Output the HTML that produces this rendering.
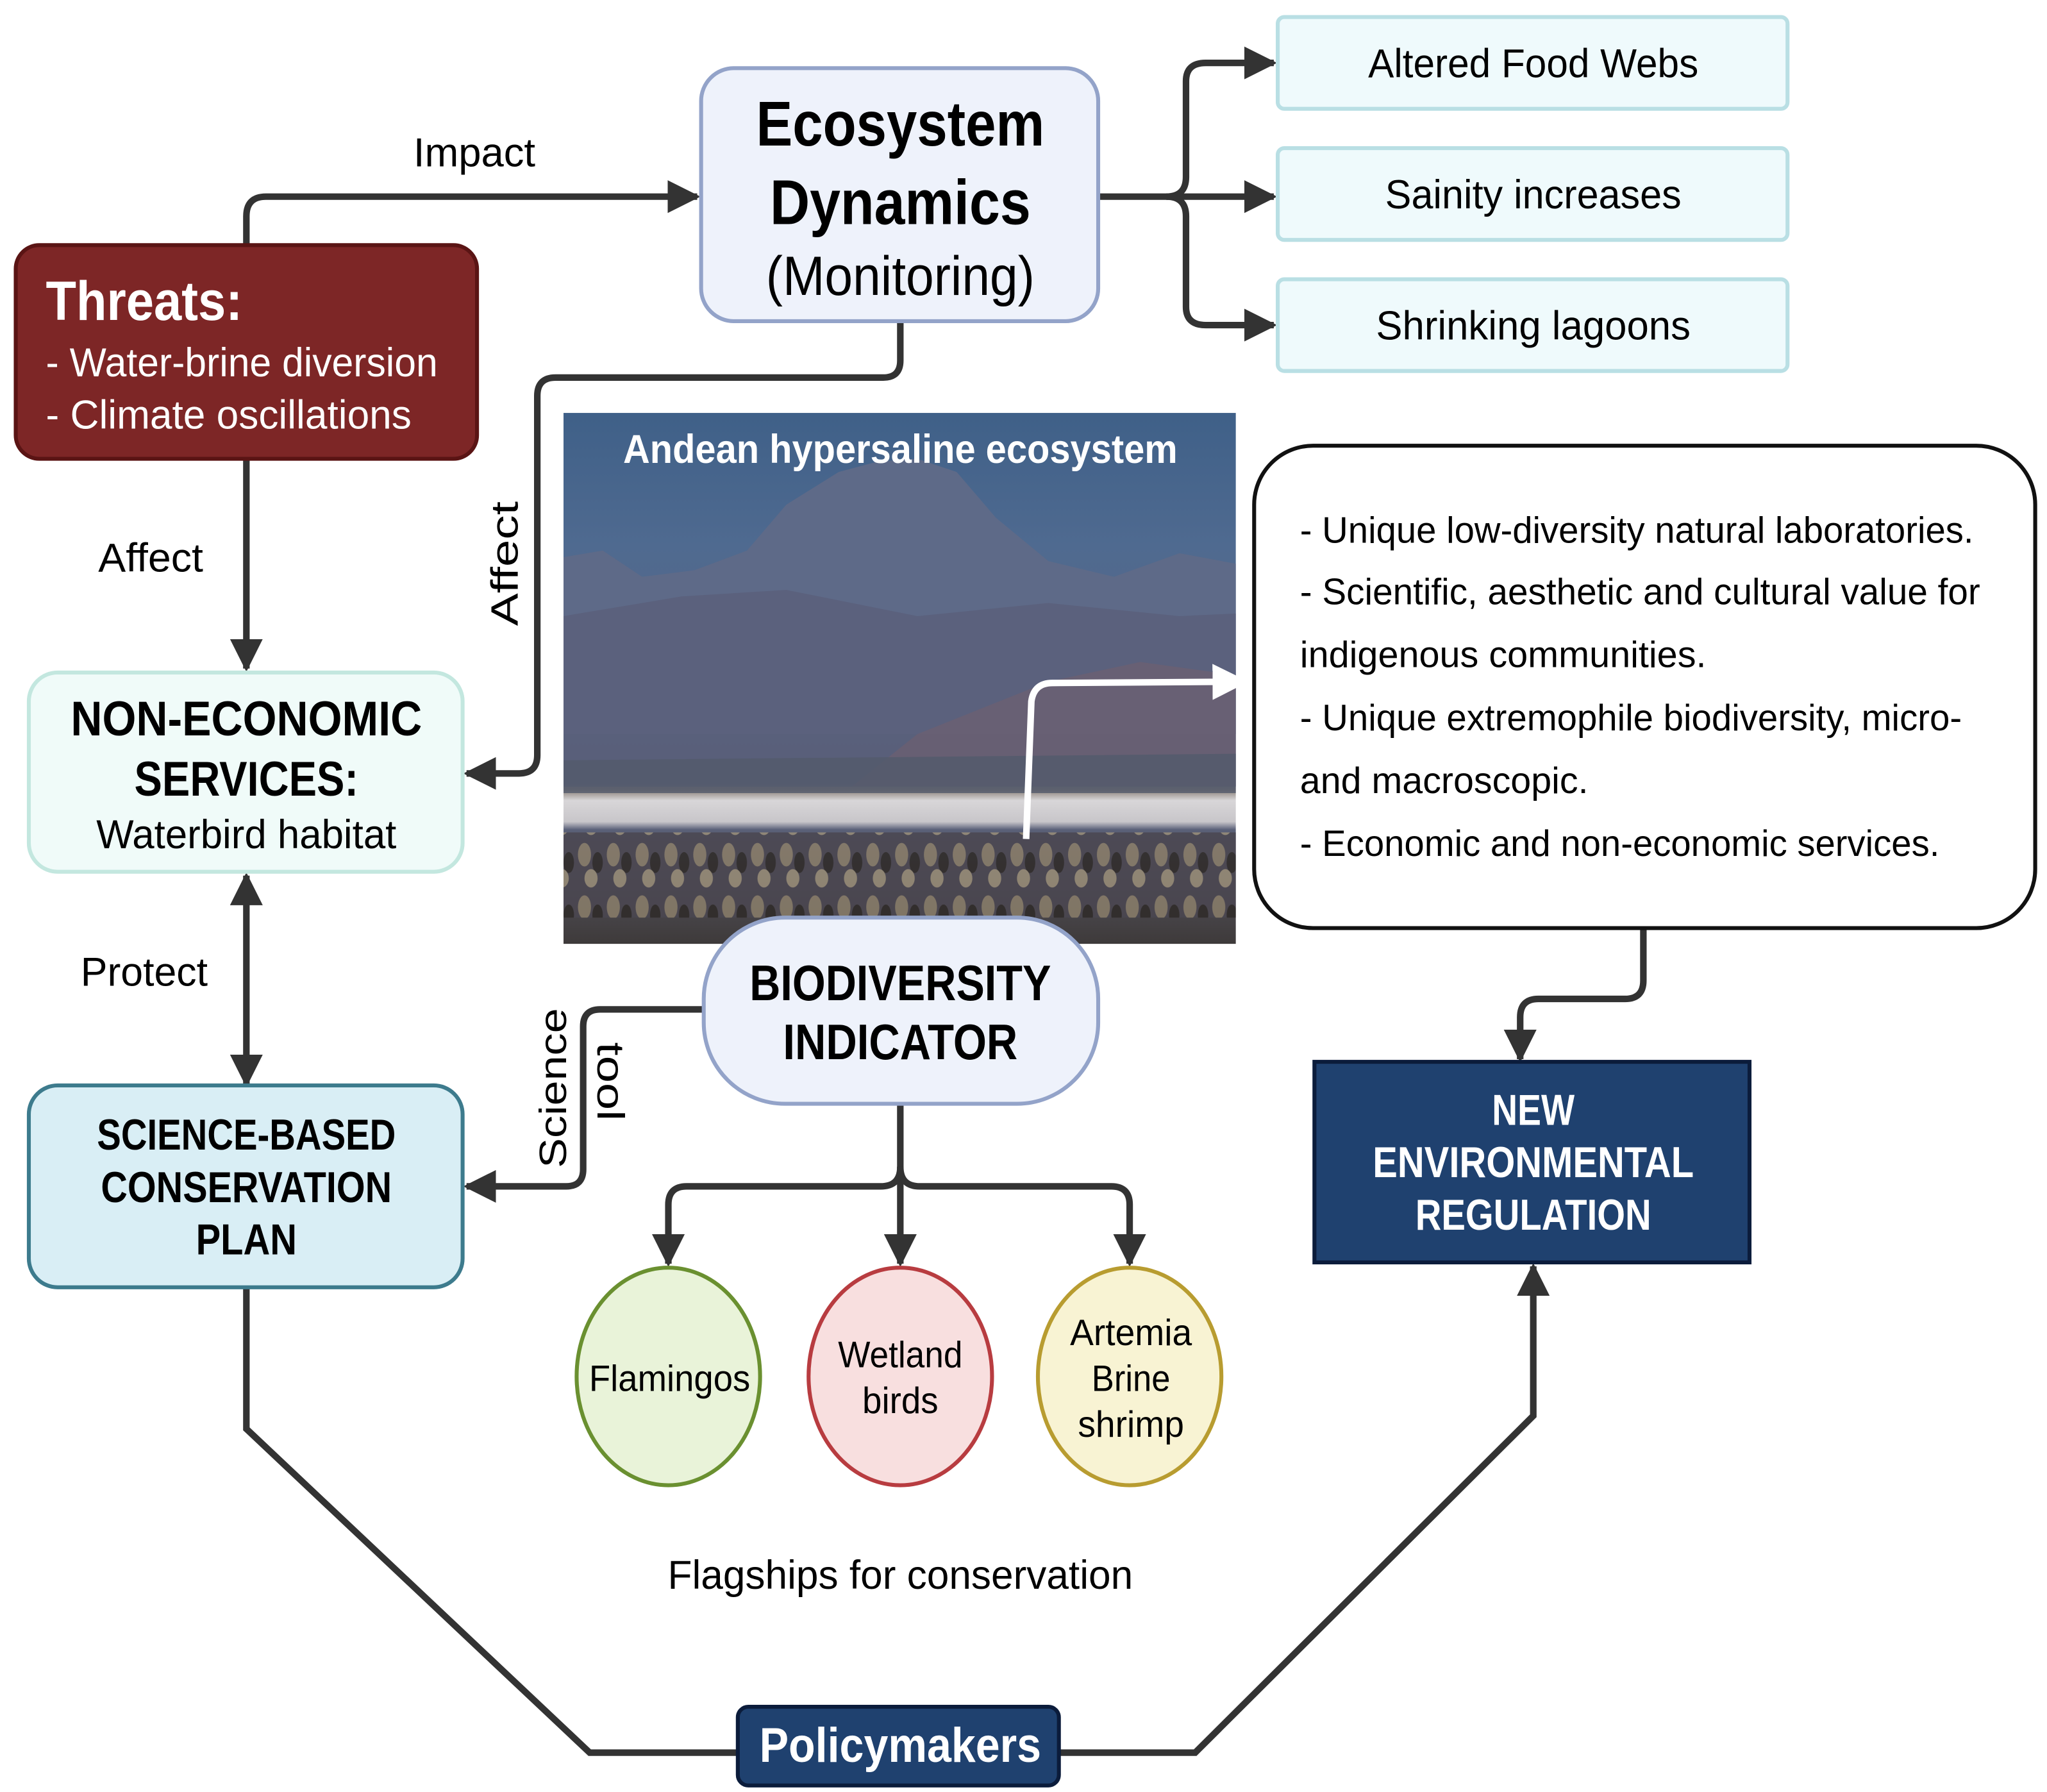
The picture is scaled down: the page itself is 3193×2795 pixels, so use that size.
<!DOCTYPE html>
<html><head><meta charset="utf-8"><style>
html,body{margin:0;padding:0;background:#fff;}
svg{display:block;}
text{font-family:"Liberation Sans",sans-serif;}
</style></head><body>
<svg width="3193" height="2795" viewBox="0 0 1562 1367" preserveAspectRatio="none" xmlns="http://www.w3.org/2000/svg">
<defs>
<marker id="ah" viewBox="0 0 10 10" refX="9" refY="5" markerWidth="5" markerHeight="5" orient="auto-start-reverse" markerUnits="strokeWidth"><path d="M0,0 L10,5 L0,10 z" fill="#333"/></marker>
<marker id="aw" viewBox="0 0 10 10" refX="9" refY="5" markerWidth="5.5" markerHeight="5.5" orient="auto" markerUnits="strokeWidth"><path d="M0,0 L10,5 L0,10 z" fill="#fff"/></marker>
<linearGradient id="sky" x1="0" y1="0" x2="0" y2="1">
<stop offset="0" stop-color="#3f6088"/><stop offset="0.25" stop-color="#4f6a90"/><stop offset="0.55" stop-color="#5a6582"/><stop offset="0.69" stop-color="#556076"/><stop offset="0.71" stop-color="#8a8078"/><stop offset="0.73" stop-color="#d8d6d8"/><stop offset="0.77" stop-color="#c8c6ca"/><stop offset="0.785" stop-color="#5a6078"/><stop offset="0.82" stop-color="#5a5a68"/><stop offset="1" stop-color="#3e3a3a"/>
</linearGradient>
<pattern id="birds" width="22" height="40" patternUnits="userSpaceOnUse">
<rect width="22" height="40" fill="#4a4650"/>
<ellipse cx="6" cy="12" rx="5" ry="9" fill="#8a7e6a"/><ellipse cx="16" cy="18" rx="4" ry="8" fill="#2e2a28"/><ellipse cx="11" cy="30" rx="5" ry="7" fill="#9a8e78"/>
</pattern>
</defs>

<!-- photo -->
<rect x="430" y="315" width="513" height="405" fill="url(#sky)"/>
<path d="M430,425 L460,420 L490,440 L530,435 L570,420 L600,385 L640,360 L670,352 L700,350 L730,360 L760,395 L800,428 L850,440 L900,422 L943,430 L943,560 L430,560 Z" fill="#5e6a88"/>
<path d="M430,470 L520,455 L600,450 L700,470 L800,460 L900,470 L943,468 L943,600 L430,600 Z" fill="#5a5f7a" opacity="0.8"/>
<path d="M700,560 L800,520 L870,505 L943,515 L943,600 L650,600 Z" fill="#6e6070" opacity="0.7"/>
<path d="M430,580 L943,575 L943,605 L430,605 Z" fill="#525a6c" opacity="0.8"/>
<rect x="430" y="635" width="513" height="65" fill="url(#birds)" opacity="0.85"/>
<text x="687" y="353" font-size="31" font-weight="bold" fill="#fff" text-anchor="middle" textLength="423" lengthAdjust="spacingAndGlyphs">Andean hypersaline ecosystem</text>
<path d="M783,640 L787,535 Q789,521 803,521 L950,520" fill="none" stroke="#fff" stroke-width="5" marker-end="url(#aw)"/>

<!-- connectors -->
<g fill="none" stroke="#333" stroke-width="5">
<path d="M188,187 L188,165 Q188,150 203,150 L532,150" marker-end="url(#ah)"/>
<path d="M838,150 L972,150" marker-end="url(#ah)"/>
<path d="M890,150 Q905,150 905,135 L905,62 Q905,48 920,48 L972,48" marker-end="url(#ah)"/>
<path d="M890,150 Q905,150 905,165 L905,234 Q905,248 920,248 L972,248" marker-end="url(#ah)"/>
<path d="M188,350 L188,510" marker-end="url(#ah)"/>
<path d="M687,245 L687,275 Q687,288 674,288 L424,288 Q410,288 410,302 L410,576 Q410,590 396,590 L356,590" marker-end="url(#ah)"/>
<path d="M188,668 L188,827" marker-start="url(#ah)" marker-end="url(#ah)"/>
<path d="M537,770 L458,770 Q445,770 445,783 L445,892 Q445,905 432,905 L356,905" marker-end="url(#ah)"/>
<path d="M687,842 L687,964" marker-end="url(#ah)"/>
<path d="M687,890 Q687,905 672,905 L524,905 Q510,905 510,919 L510,964" marker-end="url(#ah)"/>
<path d="M687,890 Q687,905 702,905 L848,905 Q862,905 862,919 L862,964" marker-end="url(#ah)"/>
<path d="M1254,708 L1254,748 Q1254,762 1240,762 L1174,762 Q1160,762 1160,776 L1160,808" marker-end="url(#ah)"/>
<path d="M188,982 L188,1090 L450,1337 L565,1337"/>
<path d="M808,1337 L912,1337 L1170,1080 L1170,966" marker-end="url(#ah)"/>
</g>

<!-- ecosystem box -->
<rect x="535" y="52" width="303" height="193" rx="25" fill="#eef2fb" stroke="#93a3c9" stroke-width="3"/>
<text x="687" y="111" font-size="48" font-weight="bold" text-anchor="middle" textLength="220" lengthAdjust="spacingAndGlyphs">Ecosystem</text>
<text x="687" y="171" font-size="48" font-weight="bold" text-anchor="middle" textLength="199" lengthAdjust="spacingAndGlyphs">Dynamics</text>
<text x="687" y="225" font-size="42" text-anchor="middle" textLength="205" lengthAdjust="spacingAndGlyphs">(Monitoring)</text>

<!-- right small boxes -->
<g fill="#effafc" stroke="#b9dfe4" stroke-width="3">
<rect x="975" y="13" width="389" height="70" rx="5"/>
<rect x="975" y="113" width="389" height="70" rx="5"/>
<rect x="975" y="213" width="389" height="70" rx="5"/>
</g>
<g font-size="31" text-anchor="middle">
<text x="1170" y="59" textLength="252" lengthAdjust="spacingAndGlyphs">Altered Food Webs</text>
<text x="1170" y="159" textLength="226" lengthAdjust="spacingAndGlyphs">Sainity increases</text>
<text x="1170" y="259" textLength="240" lengthAdjust="spacingAndGlyphs">Shrinking lagoons</text>
</g>

<!-- threats -->
<rect x="12" y="187" width="352" height="163" rx="18" fill="#7d2626" stroke="#5a1414" stroke-width="3"/>
<text x="35" y="244" font-size="42" font-weight="bold" fill="#fff" textLength="150" lengthAdjust="spacingAndGlyphs">Threats:</text>
<text x="35" y="287" font-size="31" fill="#fff" textLength="299" lengthAdjust="spacingAndGlyphs">- Water-brine diversion</text>
<text x="35" y="327" font-size="31" fill="#fff" textLength="279" lengthAdjust="spacingAndGlyphs">- Climate oscillations</text>

<!-- labels -->
<text x="362" y="127" font-size="31" text-anchor="middle" textLength="93" lengthAdjust="spacingAndGlyphs">Impact</text>
<text x="115" y="436" font-size="31" text-anchor="middle" textLength="80" lengthAdjust="spacingAndGlyphs">Affect</text>
<text transform="translate(395,430) rotate(-90)" font-size="29" text-anchor="middle" textLength="95" lengthAdjust="spacingAndGlyphs">Affect</text>
<text x="110" y="752" font-size="31" text-anchor="middle" textLength="97" lengthAdjust="spacingAndGlyphs">Protect</text>
<text transform="translate(432,830) rotate(-90)" font-size="29" text-anchor="middle" textLength="122" lengthAdjust="spacingAndGlyphs">Science</text>
<text transform="translate(456,825) rotate(90)" font-size="29" text-anchor="middle" textLength="60" lengthAdjust="spacingAndGlyphs">tool</text>

<!-- non-economic -->
<rect x="22" y="513" width="331" height="152" rx="22" fill="#f0fbf9" stroke="#c3e7df" stroke-width="3"/>
<text x="188" y="561" font-size="37" font-weight="bold" text-anchor="middle" textLength="268" lengthAdjust="spacingAndGlyphs">NON-ECONOMIC</text>
<text x="188" y="607" font-size="37" font-weight="bold" text-anchor="middle" textLength="171" lengthAdjust="spacingAndGlyphs">SERVICES:</text>
<text x="188" y="647" font-size="31" text-anchor="middle" textLength="229" lengthAdjust="spacingAndGlyphs">Waterbird habitat</text>

<!-- right text box -->
<rect x="957" y="340" width="596" height="368" rx="45" fill="#fff" stroke="#111" stroke-width="3"/>
<g font-size="28">
<text x="992" y="414" textLength="514" lengthAdjust="spacingAndGlyphs">- Unique low-diversity natural laboratories.</text>
<text x="992" y="461" textLength="519" lengthAdjust="spacingAndGlyphs">- Scientific, aesthetic and cultural value for</text>
<text x="992" y="509" textLength="310" lengthAdjust="spacingAndGlyphs">indigenous communities.</text>
<text x="992" y="557" textLength="505" lengthAdjust="spacingAndGlyphs">- Unique extremophile biodiversity, micro-</text>
<text x="992" y="605" textLength="220" lengthAdjust="spacingAndGlyphs">and macroscopic.</text>
<text x="992" y="653" textLength="488" lengthAdjust="spacingAndGlyphs">- Economic and non-economic services.</text>
</g>

<!-- new env regulation -->
<rect x="1003" y="810" width="332" height="153" fill="#1f416f" stroke="#0b1c3b" stroke-width="3"/>
<g font-size="33" font-weight="bold" fill="#fff" text-anchor="middle">
<text x="1170" y="858" textLength="63" lengthAdjust="spacingAndGlyphs">NEW</text>
<text x="1170" y="898" textLength="245" lengthAdjust="spacingAndGlyphs">ENVIRONMENTAL</text>
<text x="1170" y="938" textLength="180" lengthAdjust="spacingAndGlyphs">REGULATION</text>
</g>

<!-- biodiversity -->
<rect x="537" y="700" width="301" height="142" rx="62" fill="#eef2fb" stroke="#93a3c9" stroke-width="3"/>
<text x="687" y="763" font-size="38" font-weight="bold" text-anchor="middle" textLength="230" lengthAdjust="spacingAndGlyphs">BIODIVERSITY</text>
<text x="687" y="808" font-size="38" font-weight="bold" text-anchor="middle" textLength="179" lengthAdjust="spacingAndGlyphs">INDICATOR</text>

<!-- science-based -->
<rect x="22" y="828" width="331" height="154" rx="22" fill="#d9eef5" stroke="#3d7b8d" stroke-width="3"/>
<g font-size="33" font-weight="bold" text-anchor="middle">
<text x="188" y="877" textLength="228" lengthAdjust="spacingAndGlyphs">SCIENCE-BASED</text>
<text x="188" y="917" textLength="222" lengthAdjust="spacingAndGlyphs">CONSERVATION</text>
<text x="188" y="957" textLength="77" lengthAdjust="spacingAndGlyphs">PLAN</text>
</g>

<!-- circles -->
<ellipse cx="510" cy="1050" rx="70" ry="83" fill="#e9f3d9" stroke="#6a9030" stroke-width="3"/>
<ellipse cx="687" cy="1050" rx="70" ry="83" fill="#f8dfdf" stroke="#b83c40" stroke-width="3"/>
<ellipse cx="862" cy="1050" rx="70" ry="83" fill="#f8f3d3" stroke="#b89c30" stroke-width="3"/>
<g font-size="28" text-anchor="middle">
<text x="511" y="1061" textLength="123" lengthAdjust="spacingAndGlyphs">Flamingos</text>
<text x="687" y="1043" textLength="95" lengthAdjust="spacingAndGlyphs">Wetland</text>
<text x="687" y="1078" textLength="58" lengthAdjust="spacingAndGlyphs">birds</text>
<text x="863" y="1026" textLength="93" lengthAdjust="spacingAndGlyphs">Artemia</text>
<text x="863" y="1061" textLength="60" lengthAdjust="spacingAndGlyphs">Brine</text>
<text x="863" y="1096" textLength="81" lengthAdjust="spacingAndGlyphs">shrimp</text>
</g>
<text x="687" y="1212" font-size="31" text-anchor="middle" textLength="355" lengthAdjust="spacingAndGlyphs">Flagships for conservation</text>

<!-- policymakers -->
<rect x="563" y="1302" width="245" height="60" rx="8" fill="#1f416f" stroke="#0b1c3b" stroke-width="3"/>
<text x="687" y="1344" font-size="37" font-weight="bold" fill="#fff" text-anchor="middle" textLength="215" lengthAdjust="spacingAndGlyphs">Policymakers</text>
</svg>
</body></html>
